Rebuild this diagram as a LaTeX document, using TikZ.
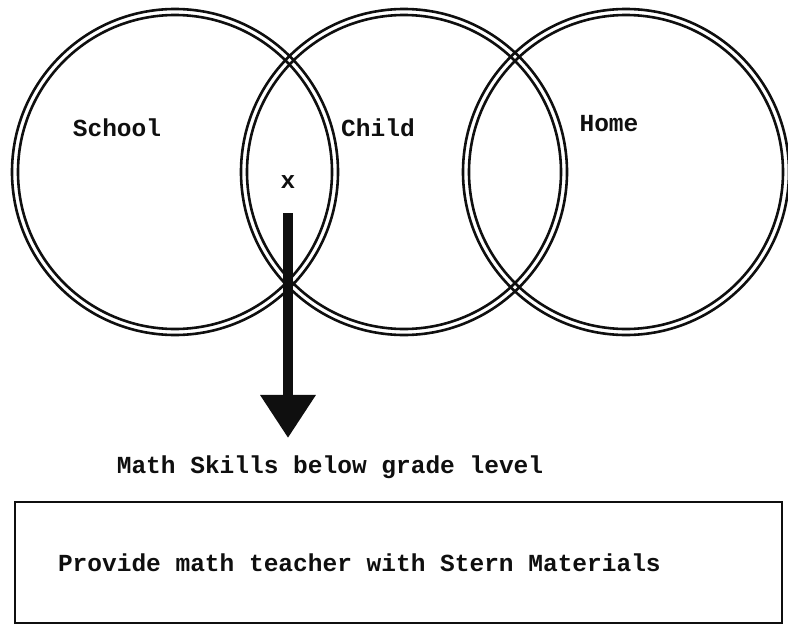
\documentclass[tikz,border=0pt]{standalone}
\usepackage{fontspec}
\setmonofont{Liberation Mono}
\usepackage{tikz}
\usetikzlibrary{arrows.meta, positioning}
\definecolor{myink}{RGB}{15,15,15}
\tikzset{
  ring/.style={circle, draw=myink, line width=2.6pt, inner sep=0pt},
  actionbox/.style={rectangle, draw=myink, line width=2.6pt,
    minimum width=767pt, minimum height=121pt,
    inner xsep=43pt, text=myink,
    font=\fontsize{24.5}{28}\selectfont\ttfamily\bfseries},
  bigarrow/.style={-{Triangle[width=53pt,length=43pt]}, line width=10pt, color=myink}
}

\begin{document}
\begin{tikzpicture}[x=1pt, y=-1pt,
  lbl/.style={font=\fontsize{24.5}{28}\selectfont\ttfamily\bfseries, text=myink}
]
\useasboundingbox (0,0) rectangle (788,629);
% double rings
\foreach \name/\cx in {school/175, child/404, home/626}{
  \node[ring, minimum size=326pt] (\name) at (\cx,172) {};
  \node[ring, minimum size=314pt] (\name-in) at (\cx,172) {};
}
% labels
\node[lbl] (schoollbl) at (117,128) {School};
\node[lbl] (childlbl) at (378,128) {Child};
\node[lbl] (homelbl) at (609,124) {Home};
\node[lbl] (xmark) at (288,182) {x};
\node[lbl] (skills) at (330,467) {Math Skills below grade level};
% action
\node[actionbox] (action) at (398.5,562.5) {\makebox[681pt][l]{Provide math teacher with Stern Materials}};
\draw[bigarrow, shorten <=21pt, shorten >=14pt] (xmark) -- (xmark |- skills.north);
\end{tikzpicture}
\end{document}
